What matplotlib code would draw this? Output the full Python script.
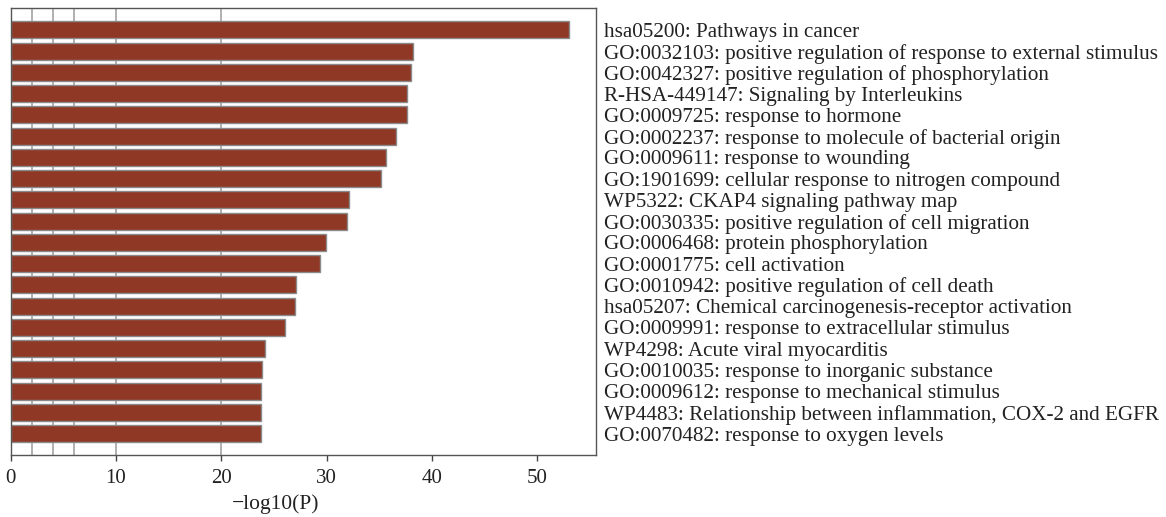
import matplotlib
matplotlib.use("Agg")
import matplotlib.pyplot as plt
import numpy as np

# Enrichment terms, top to bottom
terms = [
    "hsa05200: Pathways in cancer",
    "GO:0032103: positive regulation of response to external stimulus",
    "GO:0042327: positive regulation of phosphorylation",
    "R-HSA-449147: Signaling by Interleukins",
    "GO:0009725: response to hormone",
    "GO:0002237: response to molecule of bacterial origin",
    "GO:0009611: response to wounding",
    "GO:1901699: cellular response to nitrogen compound",
    "WP5322: CKAP4 signaling pathway map",
    "GO:0030335: positive regulation of cell migration",
    "GO:0006468: protein phosphorylation",
    "GO:0001775: cell activation",
    "GO:0010942: positive regulation of cell death",
    "hsa05207: Chemical carcinogenesis-receptor activation",
    "GO:0009991: response to extracellular stimulus",
    "WP4298: Acute viral myocarditis",
    "GO:0010035: response to inorganic substance",
    "GO:0009612: response to mechanical stimulus",
    "WP4483: Relationship between inflammation, COX-2 and EGFR",
    "GO:0070482: response to oxygen levels",
]
log_p = [53.0, 38.2, 38.0, 37.6, 37.6, 36.6, 35.6, 35.2, 32.1, 31.9,
         29.9, 29.4, 27.1, 27.0, 26.1, 24.2, 23.9, 23.8, 23.8, 23.8]
x_ticks = [0, 10, 20, 30, 40, 50]
grid_x = [2, 4, 6, 10, 20]

plt.rcParams["font.family"] = ["Liberation Serif", "DejaVu Serif"]

fig = plt.figure(figsize=(11.66, 5.17), dpi=100)
ax = fig.add_axes([0.0092, 0.12, 0.502, 0.864])

pos = np.arange(len(terms))
for gx in grid_x:
    ax.axvline(gx, color="#b0b0b0", linewidth=1.4, zorder=0)
ax.barh(pos, log_p, height=0.8, color="#8f3826", edgecolor="#8a8a8a",
        linewidth=1.0, zorder=2)

ax.set_ylim(len(terms) - 1 + 1.0, -1.02)
ax.set_xlim(0, 55.6)

ax.set_xticks(x_ticks)
ax.tick_params(axis="x", labelsize=15, length=4, width=1, color="#444444",
               labelcolor="#222222", pad=6)

ax.yaxis.tick_right()
ax.set_yticks(pos)
ax.set_yticklabels(terms)
ax.tick_params(axis="y", length=0, labelsize=15.2, pad=6, labelcolor="#222222")

for sp in ax.spines.values():
    sp.set_color("#555555")
    sp.set_linewidth(1.0)

ax.set_xlabel("\u2212log10(P)", fontsize=15.5, color="#222222")
ax.xaxis.set_label_coords(0.453, -0.088)

fig.savefig("out.png", dpi=100)
